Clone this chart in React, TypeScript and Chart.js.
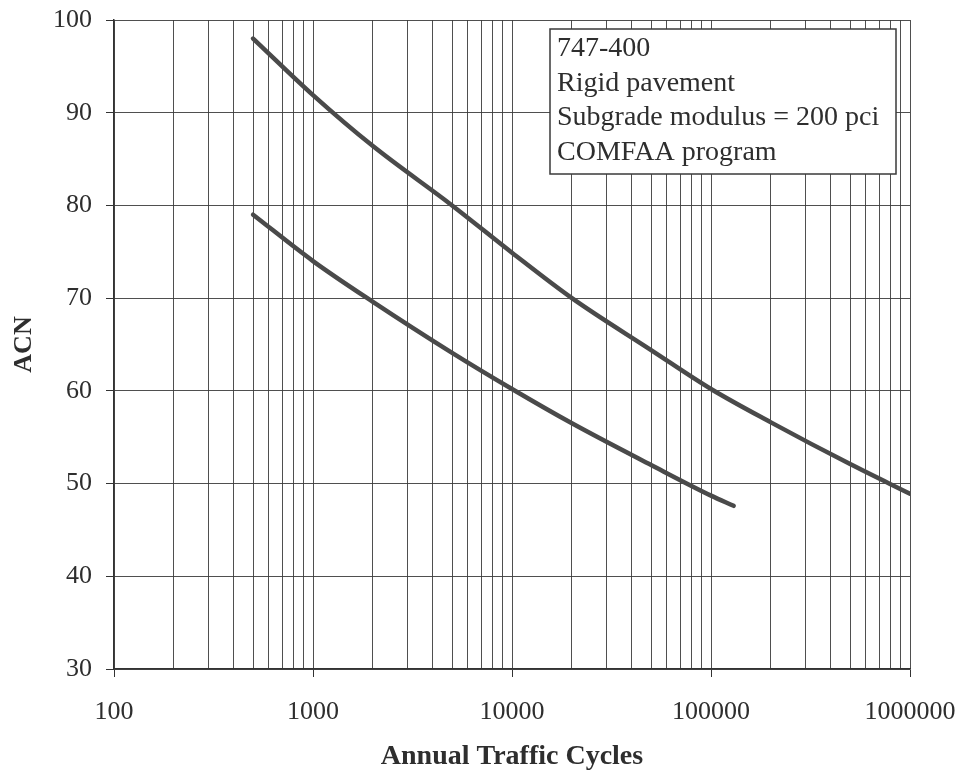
import React, { useEffect, useRef } from 'react';
import { Chart, registerables } from 'chart.js';

Chart.register(...registerables);

// ---- data ----
const upperCycles = [500, 1000, 2000, 5000, 10000, 20000, 50000, 100000, 200000, 500000, 1000000];
const upperACN = [98.0, 91.9, 86.4, 80.0, 74.9, 70.0, 64.4, 60.2, 56.6, 52.1, 48.9];

const lowerCycles = [500, 1000, 2000, 5000, 10000, 20000, 50000, 100000, 130000];
const lowerACN = [79.0, 74.0, 69.6, 64.1, 60.2, 56.5, 52.0, 48.7, 47.6];

const xDecades = [100, 1000, 10000, 100000, 1000000];
const xMultipliers = [1, 2, 3, 4, 5, 6, 7, 8, 9];
const yTickValues = [30, 40, 50, 60, 70, 80, 90, 100];

const noteLines = ['747-400', 'Rigid pavement', 'Subgrade modulus = 200 pci', 'COMFAA program'];
const xTitle = 'Annual Traffic Cycles';
const yTitle = 'ACN';

const SERIF = '"Liberation Serif", "Times New Roman", serif';
const TEXT = '#2e2e2e';
const GRID = 'rgba(60,60,60,0.9)';

const isDecade = (v: number) => {
  const l = Math.log10(v);
  return Math.abs(l - Math.round(l)) < 1e-9;
};

const notePlugin = {
  id: 'noteBox',
  afterDatasetsDraw(chart: any) {
    const { ctx, chartArea } = chart;
    const boxW = 346;
    const boxH = 145;
    const boxX = chartArea.right - 14 - boxW;
    const boxY = chartArea.top + 9;
    ctx.save();
    ctx.fillStyle = '#ffffff';
    ctx.fillRect(boxX, boxY, boxW, boxH);
    ctx.strokeStyle = '#3a3a3a';
    ctx.lineWidth = 1.5;
    ctx.strokeRect(boxX, boxY, boxW, boxH);
    ctx.fillStyle = TEXT;
    ctx.font = `28px ${SERIF}`;
    ctx.textAlign = 'left';
    ctx.textBaseline = 'middle';
    noteLines.forEach((line, i) => {
      ctx.fillText(line, boxX + 7, boxY + 20 + i * 34.5);
    });
    ctx.restore();
  },
};

export default function App() {
  const canvasRef = useRef<HTMLCanvasElement | null>(null);

  useEffect(() => {
    if (!canvasRef.current) return;
    const xTicks: number[] = [];
    xDecades.forEach((d, i) => {
      if (i === xDecades.length - 1) {
        xTicks.push(d);
      } else {
        xMultipliers.forEach((m) => xTicks.push(d * m));
      }
    });

    const chart = new Chart(canvasRef.current, {
      type: 'line',
      data: {
        datasets: [
          {
            data: upperCycles.map((c, i) => ({ x: c, y: upperACN[i] })),
            borderColor: '#4a4a4a',
            borderWidth: 4.5,
            pointRadius: 0,
            cubicInterpolationMode: 'monotone',
            borderCapStyle: 'round',
            fill: false,
          },
          {
            data: lowerCycles.map((c, i) => ({ x: c, y: lowerACN[i] })),
            borderColor: '#4a4a4a',
            borderWidth: 4.5,
            pointRadius: 0,
            cubicInterpolationMode: 'monotone',
            borderCapStyle: 'round',
            fill: false,
          },
        ],
      },
      options: {
        responsive: false,
        animation: false,
        layout: { padding: { left: 0, right: 52, top: 20, bottom: 0 } },
        plugins: {
          legend: { display: false },
          tooltip: { enabled: false },
        },
        scales: {
          x: {
            type: 'logarithmic',
            min: 100,
            max: 1000000,
            afterBuildTicks: (scale: any) => {
              scale.ticks = xTicks.map((v) => ({ value: v, major: isDecade(v) }));
            },
            afterFit: (scale: any) => {
              scale.height = 106;
              scale.paddingLeft = 0;
              scale.paddingRight = 0;
            },
            grid: {
              color: GRID,
              lineWidth: 1,
              tickLength: 8,
              tickColor: (ctx: any) => (ctx.tick && isDecade(ctx.tick.value) ? '#333' : 'rgba(0,0,0,0)'),
            },
            border: { color: '#333', width: 1.5 },
            ticks: {
              autoSkip: false,
              maxRotation: 0,
              minRotation: 0,
              padding: 20,
              color: TEXT,
              font: { family: SERIF, size: 26 },
              callback: (v: any) => (isDecade(Number(v)) ? String(v) : ''),
            },
            title: {
              display: true,
              text: xTitle,
              color: TEXT,
              font: { family: SERIF, size: 28, weight: 'bold' },
              padding: { top: 0, bottom: 1 },
            },
          },
          y: {
            min: 30,
            max: 100,
            afterBuildTicks: (scale: any) => {
              scale.ticks = yTickValues.map((v) => ({ value: v }));
            },
            afterFit: (scale: any) => {
              scale.width = 114;
              scale.paddingTop = 0;
              scale.paddingBottom = 0;
            },
            grid: {
              color: GRID,
              lineWidth: 1,
              tickLength: 8,
              tickColor: '#333',
            },
            border: { color: '#333', width: 1.5 },
            ticks: {
              padding: 14,
              color: TEXT,
              font: { family: SERIF, size: 26 },
            },
            title: {
              display: true,
              text: yTitle,
              color: TEXT,
              font: { family: SERIF, size: 26, weight: 'bold' },
              padding: { top: 9, bottom: 0 },
            },
          },
        },
      } as any,
      plugins: [notePlugin],
    });

    return () => chart.destroy();
  }, []);

  return (
    <div style={{ position: 'fixed', left: 0, top: 0, width: 962, height: 775, background: '#ffffff' }}>
      <canvas ref={canvasRef} width={962} height={775} style={{ display: 'block', width: 962, height: 775 }} />
    </div>
  );
}
